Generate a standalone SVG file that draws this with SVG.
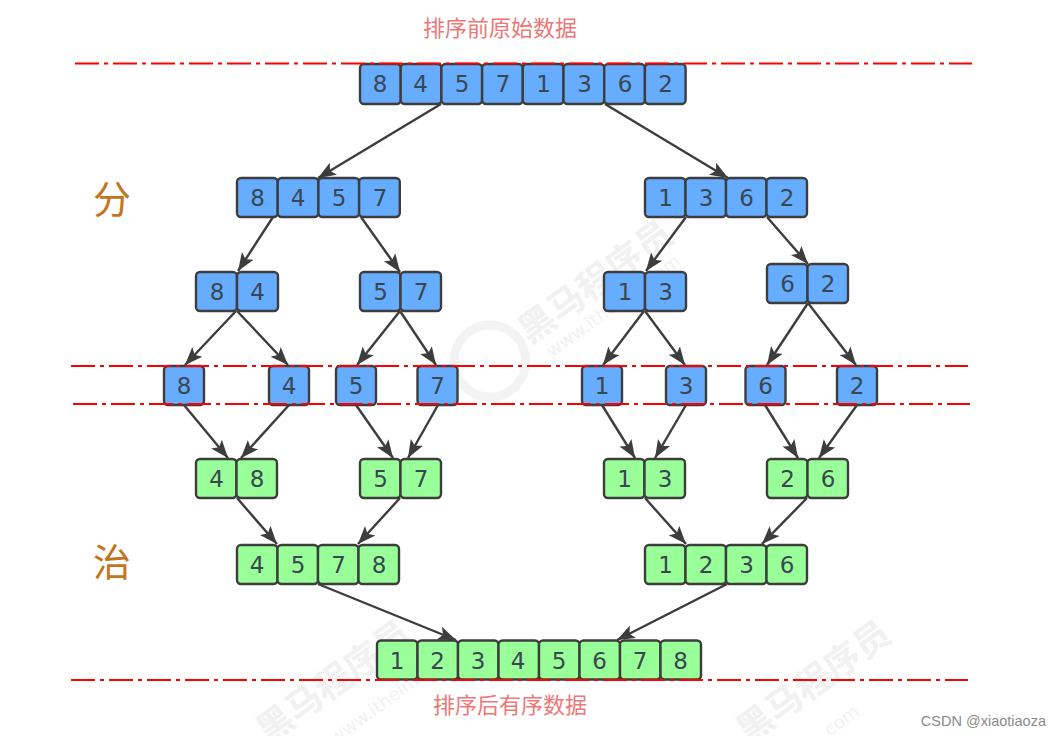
<svg xmlns="http://www.w3.org/2000/svg" width="1060" height="736" viewBox="0 0 1060 736">
<style>
.b rect{fill:#66adff;stroke:#3d3d3d;stroke-width:2.4}
.g rect{fill:#99ff99;stroke:#3d3d3d;stroke-width:2.4}
.n text{font-family:"DejaVu Sans",sans-serif;font-size:23px;fill:#3a4650;text-anchor:middle}
#connectors line{stroke:#3d3d3d;stroke-width:2.4;marker-end:url(#a)}
#guides line{stroke:#ff0000;stroke-width:2.2;stroke-dasharray:24 5 4 5}
.cap{font-family:"Noto Sans CJK SC",sans-serif;font-size:22px;fill:#ee7777;text-anchor:middle}
.big{font-family:"Noto Sans CJK SC",sans-serif;font-size:38px;fill:#c4741e;text-anchor:middle}
.wm{font-family:"Noto Sans CJK SC",sans-serif;font-weight:700;font-size:36px;fill:#f1f1f1}
.wu{font-family:"DejaVu Sans",sans-serif;font-size:18px;fill:#f1f1f1}
</style>
<defs>
<marker id="a" markerUnits="userSpaceOnUse" markerWidth="20" markerHeight="16" refX="18" refY="8" orient="auto"><path d="M0 1 L18 8 L0 15 L4 8 Z" fill="#3d3d3d"/></marker>
</defs>
<rect width="1060" height="736" fill="#fff"/>
<g id="watermarks">
<text class="wm" transform="translate(530 345) rotate(-36)">黑马程序员</text>
<text class="wu" transform="translate(552 358) rotate(-36)">www.itheima.com</text>
<circle cx="490" cy="361" r="36" fill="none" stroke="#f3f3f3" stroke-width="9"/>
<text class="wm" transform="translate(268 745) rotate(-36)">黑马程序员</text>
<text class="wu" transform="translate(335 745) rotate(-36)">www.itheima.com</text>
<text class="wm" transform="translate(748 745) rotate(-36)">黑马程序员</text>
<text class="wu" transform="translate(825 740) rotate(-36)">.com</text>
</g>
<g id="connectors">
<line x1="441" y1="104" x2="318" y2="178"/>
<line x1="605" y1="104" x2="728" y2="178"/>
<line x1="273" y1="217" x2="238" y2="271"/>
<line x1="361" y1="217" x2="400" y2="272"/>
<line x1="686" y1="217" x2="646" y2="271"/>
<line x1="767" y1="217" x2="808" y2="264"/>
<line x1="236" y1="311" x2="185" y2="365"/>
<line x1="237" y1="311" x2="288" y2="365"/>
<line x1="400" y1="311" x2="357" y2="365"/>
<line x1="400" y1="311" x2="436" y2="365"/>
<line x1="644" y1="311" x2="603" y2="365"/>
<line x1="645" y1="311" x2="685" y2="365"/>
<line x1="808" y1="303" x2="767" y2="365"/>
<line x1="808" y1="303" x2="856" y2="365"/>
<line x1="184" y1="405" x2="228" y2="458"/>
<line x1="289" y1="405" x2="241" y2="458"/>
<line x1="356" y1="405" x2="393" y2="458"/>
<line x1="438" y1="405" x2="408" y2="458"/>
<line x1="602" y1="405" x2="635" y2="458"/>
<line x1="686" y1="405" x2="655" y2="458"/>
<line x1="765" y1="405" x2="798" y2="458"/>
<line x1="857" y1="405" x2="819" y2="458"/>
<line x1="237" y1="498" x2="277" y2="544"/>
<line x1="400" y1="498" x2="358" y2="544"/>
<line x1="645" y1="498" x2="686" y2="544"/>
<line x1="807" y1="498" x2="762" y2="544"/>
<line x1="318" y1="584" x2="456" y2="640"/>
<line x1="727" y1="584" x2="617" y2="640"/>
</g>
<g id="r0" class="n b">
<rect x="360" y="64" width="40.7" height="40" rx="4"/><rect x="400.7" y="64" width="40.7" height="40" rx="4"/><rect x="441.4" y="64" width="40.7" height="40" rx="4"/><rect x="482.1" y="64" width="40.7" height="40" rx="4"/><rect x="522.8" y="64" width="40.7" height="40" rx="4"/><rect x="563.5" y="64" width="40.7" height="40" rx="4"/><rect x="604.2" y="64" width="40.7" height="40" rx="4"/><rect x="644.9" y="64" width="40.7" height="40" rx="4"/>
<text x="380" y="92">8</text><text x="420.5" y="92">4</text><text x="462" y="92">5</text><text x="503" y="92">7</text><text x="543.5" y="92">1</text><text x="584.5" y="92">3</text><text x="625" y="92">6</text><text x="665.5" y="92">2</text>
</g>
<g id="r1a" class="n b">
<rect x="237" y="178" width="40.7" height="39" rx="4"/><rect x="277.7" y="178" width="40.7" height="39" rx="4"/><rect x="318.4" y="178" width="40.7" height="39" rx="4"/><rect x="359.1" y="178" width="40.7" height="39" rx="4"/>
<text x="257.5" y="206">8</text><text x="298" y="206">4</text><text x="339" y="206">5</text><text x="380" y="206">7</text>
</g>
<g id="r1b" class="n b">
<rect x="645" y="178" width="40.5" height="39" rx="4"/><rect x="685.5" y="178" width="40.5" height="39" rx="4"/><rect x="726" y="178" width="40.5" height="39" rx="4"/><rect x="766.5" y="178" width="40.5" height="39" rx="4"/>
<text x="665.5" y="206">1</text><text x="706" y="206">3</text><text x="746.5" y="206">6</text><text x="787" y="206">2</text>
</g>
<g id="r2a" class="n b"><rect x="196" y="272" width="41" height="39" rx="4"/><rect x="237" y="272" width="41" height="39" rx="4"/><text x="217" y="300">8</text><text x="257.5" y="300">4</text></g>
<g id="r2b" class="n b"><rect x="360" y="272" width="40.5" height="39" rx="4"/><rect x="400.5" y="272" width="40.5" height="39" rx="4"/><text x="380.5" y="300">5</text><text x="421" y="300">7</text></g>
<g id="r2c" class="n b"><rect x="604" y="272" width="41" height="39" rx="4"/><rect x="645" y="272" width="41" height="39" rx="4"/><text x="625" y="300">1</text><text x="665.5" y="300">3</text></g>
<g id="r2d" class="n b"><rect x="767" y="264" width="40.5" height="39" rx="4"/><rect x="807.5" y="264" width="40.5" height="39" rx="4"/><text x="787.5" y="292">6</text><text x="828" y="292">2</text></g>
<g id="s8" class="n b"><rect x="164" y="366" width="40" height="39" rx="4"/><text x="184" y="394">8</text></g>
<g id="s4" class="n b"><rect x="269" y="366" width="40" height="39" rx="4"/><text x="289" y="394">4</text></g>
<g id="s5" class="n b"><rect x="336" y="366" width="40" height="39" rx="4"/><text x="356" y="394">5</text></g>
<g id="s7" class="n b"><rect x="417.500" y="366" width="40" height="39" rx="4"/><text x="437.500" y="394">7</text></g>
<g id="s1" class="n b"><rect x="582" y="366" width="40" height="39" rx="4"/><text x="602" y="394">1</text></g>
<g id="s3" class="n b"><rect x="666" y="366" width="40" height="39" rx="4"/><text x="686" y="394">3</text></g>
<g id="s6" class="n b"><rect x="745.500" y="366" width="40" height="39" rx="4"/><text x="765.500" y="394">6</text></g>
<g id="s2" class="n b"><rect x="837" y="366" width="40" height="39" rx="4"/><text x="857" y="394">2</text></g>
<g id="m0" class="n g"><rect x="196" y="459" width="40.5" height="39" rx="4"/><rect x="236.500" y="459" width="40.500" height="39" rx="4"/><text x="216.500" y="487">4</text><text x="257" y="487">8</text></g>
<g id="m1" class="n g"><rect x="360" y="459" width="40.5" height="39" rx="4"/><rect x="400.500" y="459" width="40.500" height="39" rx="4"/><text x="380.500" y="487">5</text><text x="421" y="487">7</text></g>
<g id="m2" class="n g"><rect x="604" y="459" width="40.5" height="39" rx="4"/><rect x="644.500" y="459" width="40.500" height="39" rx="4"/><text x="624.500" y="487">1</text><text x="665" y="487">3</text></g>
<g id="m3" class="n g"><rect x="767" y="459" width="40.5" height="39" rx="4"/><rect x="807.500" y="459" width="40.500" height="39" rx="4"/><text x="787.500" y="487">2</text><text x="828" y="487">6</text></g>
<g id="m4" class="n g"><rect x="237" y="545" width="40.500" height="39" rx="4"/><rect x="277.500" y="545" width="40.500" height="39" rx="4"/><rect x="318" y="545" width="40.500" height="39" rx="4"/><rect x="358.500" y="545" width="40.500" height="39" rx="4"/><text x="257" y="573">4</text><text x="298" y="573">5</text><text x="338.500" y="573">7</text><text x="379" y="573">8</text></g>
<g id="m5" class="n g"><rect x="645" y="545" width="40.500" height="39" rx="4"/><rect x="685.500" y="545" width="40.500" height="39" rx="4"/><rect x="726" y="545" width="40.500" height="39" rx="4"/><rect x="766.500" y="545" width="40.500" height="39" rx="4"/><text x="665.500" y="573">1</text><text x="706" y="573">2</text><text x="746.500" y="573">3</text><text x="787" y="573">6</text></g>
<g id="m6" class="n g">
<rect x="377" y="640.500" width="40.500" height="39" rx="4"/><rect x="417.500" y="640.500" width="40.500" height="39" rx="4"/><rect x="458" y="640.500" width="40.500" height="39" rx="4"/><rect x="498.500" y="640.500" width="40.500" height="39" rx="4"/><rect x="539" y="640.500" width="40.500" height="39" rx="4"/><rect x="579.500" y="640.500" width="40.500" height="39" rx="4"/><rect x="620" y="640.500" width="40.500" height="39" rx="4"/><rect x="660.500" y="640.500" width="40.500" height="39" rx="4"/>
<text x="397" y="668.500">1</text><text x="437.500" y="668.500">2</text><text x="478" y="668.500">3</text><text x="518" y="668.500">4</text><text x="559" y="668.500">5</text><text x="599.500" y="668.500">6</text><text x="640" y="668.500">7</text><text x="680.500" y="668.500">8</text>
</g>
<g id="guides">
<line x1="75" y1="63.500" x2="972" y2="63.500"/>
<line x1="71" y1="366" x2="968" y2="366"/>
<line x1="73" y1="404" x2="970" y2="404"/>
<line x1="71" y1="680" x2="968" y2="680"/>
</g>
<g id="labels">
<text class="cap" x="500" y="36">排序前原始数据</text>
<text class="cap" x="510" y="713">排序后有序数据</text>
<text class="big" x="112" y="213">分</text>
<text class="big" x="112" y="576">治</text>
<text x="1046" y="726" text-anchor="end" font-family="Liberation Sans, sans-serif" font-size="14.500" fill="#8a8a8a">CSDN @xiaotiaoza</text>
</g>
</svg>
